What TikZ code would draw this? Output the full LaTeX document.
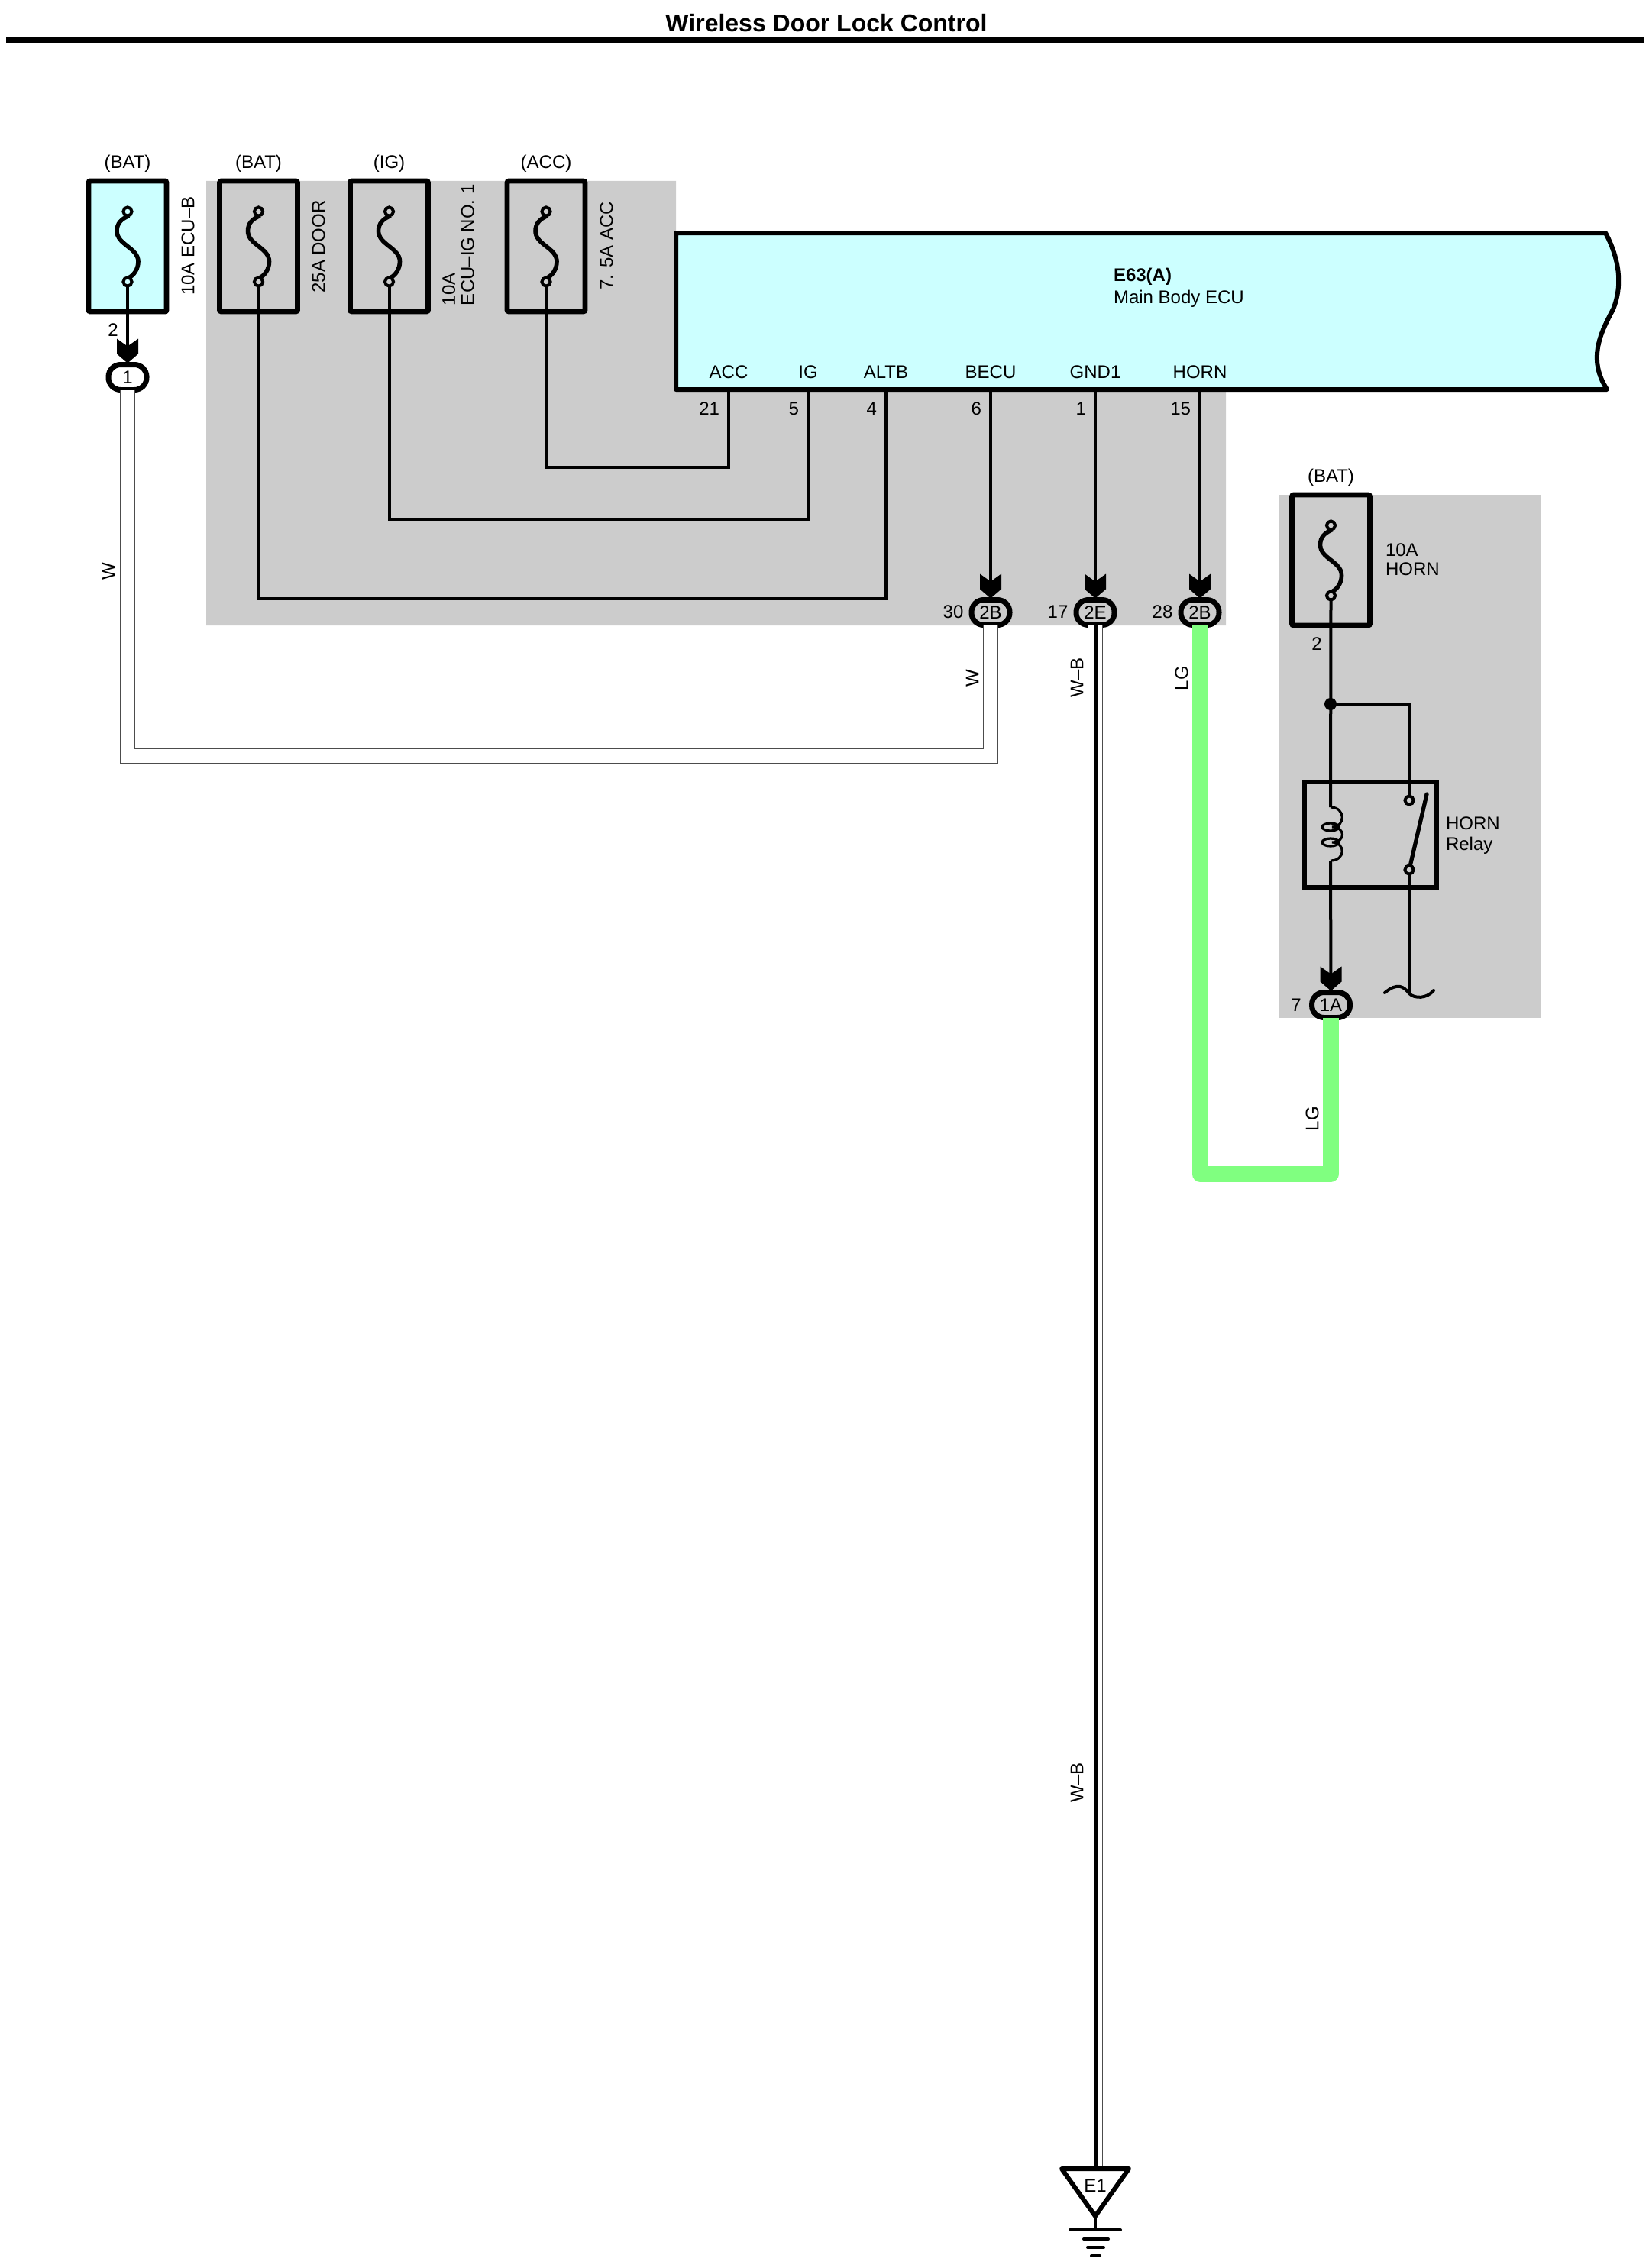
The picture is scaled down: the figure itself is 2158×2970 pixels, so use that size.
\documentclass[tikz,border=0pt]{standalone}
\usepackage{fontspec}
\setmainfont{Liberation Sans}
\usepackage{tikz}
\usetikzlibrary{positioning, calc}

\definecolor{panelgray}{HTML}{CCCCCC}
\definecolor{ecucyan}{HTML}{CCFFFF}
\definecolor{wiregreen}{HTML}{80FF80}

\tikzset{
	pics/fuselink/.style={code={
		\draw[line width=2.8pt] (2,-40) .. controls (-8,-36) and (-14,-30) .. (-14,-20) .. controls (-14,-2) and (14,2) .. (14,20) .. controls (14,30) and (8,38) .. (2,41);
		\draw[line width=2pt, fill=#1] (0,-45.5) circle[radius=2.8pt];
		\draw[line width=2pt, fill=#1] (0,46.5) circle[radius=2.8pt];
		\coordinate (-low) at (0,52);
	}},
	pics/chevron/.style={code={
		\fill (-14,-34) -- (0,-24) -- (14,-34) -- (14,-14) -- (0,-2) -- (-14,-14) -- cycle;
	}}
}

\begin{document}
\begin{tikzpicture}[
		x=0.5pt, y=-0.5pt,
		every node/.style={font=\fontsize{12}{12.4}\selectfont, inner sep=0pt, outer sep=0pt},
		fusebox/.style={draw, line width=3.3pt, rounded corners=1pt, minimum width=51pt, minimum height=85.5pt},
		plug/.style={draw, line width=3.5pt, rounded corners=8pt, minimum width=25pt, minimum height=16.5pt},
		wire/.style={line width=2pt},
		whitewire/.style={double=white, double distance=8.6pt, line width=.8pt, draw=black!70},
		lgwire/.style={line width=10.5pt, wiregreen, line join=round},
		sidetext/.style={rotate=90, align=left}
	]
	\useasboundingbox (0,0) rectangle (2158,2970);

	% --- Title ---
	\node[font=\bfseries\fontsize{16}{16}\selectfont] (title) at (1082,30) {Wireless Door Lock Control};
	\draw[line width=3.3pt] (8,52.5) -- (2152,52.5);

	% --- Gray panels ---
	\fill[panelgray] (270,237) -- (885,237) -- (885,510) -- (1605,510) -- (1605,819) -- (270,819) -- cycle;
	\fill[panelgray] (1674,648) rectangle (2017,1333);

	% --- Fuses ---
	\node[fusebox, fill=ecucyan] (fuseA) at (167,322.5) {};
	\node[fusebox, fill=panelgray, right=34.75pt of fuseA] (fuseB) {};
	\node[fusebox, fill=panelgray, right=34.5pt of fuseB] (fuseC) {};
	\node[fusebox, fill=panelgray, right=51.75pt of fuseC] (fuseD) {};
	\node[fusebox, fill=panelgray] (fuseH) at (1742.5,733.5) {};
	\pic (linkA) at (fuseA) {fuselink=ecucyan};
	\pic (linkB) at (fuseB) {fuselink=panelgray};
	\pic (linkC) at (fuseC) {fuselink=panelgray};
	\pic (linkD) at (fuseD) {fuselink=panelgray};
	\pic (linkH) at (fuseH) {fuselink=panelgray};

	\node[above=6pt of fuseA] (batA) {(BAT)};
	\node[above=6pt of fuseB] (batB) {(BAT)};
	\node[above=6pt of fuseC] (ig) {(IG)};
	\node[above=6pt of fuseD] (acc) {(ACC)};
	\node[above=6pt of fuseH] (batH) {(BAT)};
	\node[sidetext] (ampA) at (246,322) {10A ECU--B};
	\node[sidetext] (ampB) at (417,323) {25A DOOR};
	\node[sidetext, anchor=west] (ampC) at (600,400) {10A\\ECU--IG NO. 1};
	\node[sidetext] (ampD) at (794,322) {7. 5A ACC};
	\node[align=left, anchor=west] (ampH) at (1814,733) {10A\\HORN};

	% --- ECU ---
	\draw[line width=3pt, fill=ecucyan, line join=round] (885,305) -- (2102,305) .. controls (2118,335) and (2126,370) .. (2112,405) .. controls (2096,435) and (2078,470) .. (2104,510) -- (885,510) -- cycle;
	\node[anchor=west, font=\bfseries\fontsize{12}{12}\selectfont] (ecuid) at (1458,362) {E63(A)};
	\node[anchor=west] (ecuname) at (1458,391) {Main Body ECU};
	\coordinate (pinACC) at (954,510);
	\coordinate (pinIG) at (1058,510);
	\coordinate (pinALTB) at (1160,510);
	\coordinate (pinBECU) at (1297,510);
	\coordinate (pinGND) at (1434,510);
	\coordinate (pinHORN) at (1571,510);
	\foreach \pn/\pt/\pnum in {pinACC/ACC/21, pinIG/IG/5, pinALTB/ALTB/4, pinBECU/BECU/6, pinGND/GND1/1, pinHORN/HORN/15}{
		\node[above=11.5pt of \pn, anchor=center] (\pn-name) {\pt};
		\node[below left=12.5pt and 6pt of \pn, anchor=east] (\pn-num) {\pnum};
	}

	% --- Connectors ---
	\node[plug, fill=panelgray] (plugB) at (1297,802) {2B};
	\node[plug, fill=panelgray, right=43.5pt of plugB] (plugC) {2E};
	\node[plug, fill=panelgray, right=43.5pt of plugC] (plugD) {2B};
	\node[plug, fill=white] (plugA) at (167,494) {1};
	\node[plug, fill=panelgray] (plugE) at (1742.5,1316) {1A};

	% --- Colored wires ---
	\draw[whitewire] (plugA.south) -- ++(0,479.5) -| (plugB.south);
	\coordinate (earthtop) at (1434,2840);
	\draw[whitewire] (plugC.south) -- (earthtop);
	\draw[wire, line width=2.5pt] (plugC.south) -- (earthtop);
	\draw[lgwire] (plugD.south) -- ++(0,718.5) -| (plugE.south);
	\node[sidetext] (wA) at (142,748) {W};
	\node[sidetext] (wB) at (1273,888) {W};
	\node[sidetext] (wbA) at (1410,887) {W--B};
	\node[sidetext] (wbB) at (1410,2334) {W--B};
	\node[sidetext] (lgA) at (1547,888) {LG};
	\node[sidetext] (lgB) at (1718,1465) {LG};

	% --- Signal wires ---
	\draw[wire] (linkA-low) -- (plugA);
	\draw[wire] (pinACC) -- ++(0,102) -| (linkD-low);
	\draw[wire] (pinIG) -- ++(0,170) -| (linkC-low);
	\draw[wire] (pinALTB) -- ++(0,274) -| (linkB-low);
	\draw[wire] (pinBECU) -- (plugB.north);
	\draw[wire] (pinGND) -- (plugC.north);
	\draw[wire] (pinHORN) -- (plugD.north);
	\foreach \pl in {plugA, plugB, plugC, plugD, plugE}{
		\pic at (\pl.north) {chevron};
	}
	\node (numA) at (148,432) {2};
	\node (numB) at (1248,801) {30};
	\node (numC) at (1385,801) {17};
	\node (numD) at (1522,801) {28};
	\node (numE) at (1697,1316) {7};
	\node (numH) at (1724,843) {2};

	% --- Horn relay ---
	\node[draw, line width=3.3pt, minimum width=86.5pt, minimum height=69pt] (relay) at (1794.5,1093) {};
	\node[align=left, anchor=west] (relaytext) at (1893,1094) {HORN\\[1pt]Relay};
	\coordinate (coiltop) at (1742,1057);
	\coordinate (coilbot) at (1742,1127);
	\coordinate (contactup) at (1845,1048);
	\coordinate (contactlow) at (1845,1139);
	\coordinate (earthend) at (1845,1301);
	\draw[wire] (linkH-low) -- (coiltop);
	\draw[wire] (coilbot) -- (plugE.north);
	\fill (1742,922) circle[radius=4pt];
	\draw[wire] (1742,922) -| (contactup);
	\draw[wire] (contactlow) -- (earthend);
	\draw[line width=1.6pt] (coiltop) .. controls (1762,1057) and (1762,1083) .. (1744,1083) .. controls (1762,1083) and (1762,1103) .. (1744,1103) .. controls (1762,1103) and (1762,1127) .. (coilbot);
	\draw[line width=1.6pt] (1742,1083) ellipse[x radius=5.5pt, y radius=2.5pt];
	\draw[line width=1.6pt] (1742,1103) ellipse[x radius=5.5pt, y radius=2.5pt];
	\draw[line width=2.6pt, line cap=round] (contactlow) -- (1868,1040);
	\draw[line width=2pt, fill=panelgray] (contactup) circle[radius=2.8pt];
	\draw[line width=2pt, fill=panelgray] (contactlow) circle[radius=2.8pt];
	\draw[wire, line cap=round] (1813,1300) .. controls (1830,1286) and (1838,1292) .. (earthend) .. controls (1852,1308) and (1868,1308) .. (1877,1297);

	% --- Earth E1 ---
	\draw[line width=3pt, line join=round, fill=white] (1390,2840) -- (1478,2840) -- (1434,2902) -- cycle;
	\node (earth) at (1434,2862) {E1};
	\draw[wire] (1434,2902) -- (1434,2920);
	\draw[wire, line cap=round] (1401,2920) -- (1467,2920);
	\draw[wire, line cap=round] (1419,2932) -- (1451,2932);
	\draw[wire, line cap=round] (1424,2943) -- (1445,2943);
	\draw[wire, line cap=round] (1429,2954) -- (1440,2954);
\end{tikzpicture}
\end{document}
